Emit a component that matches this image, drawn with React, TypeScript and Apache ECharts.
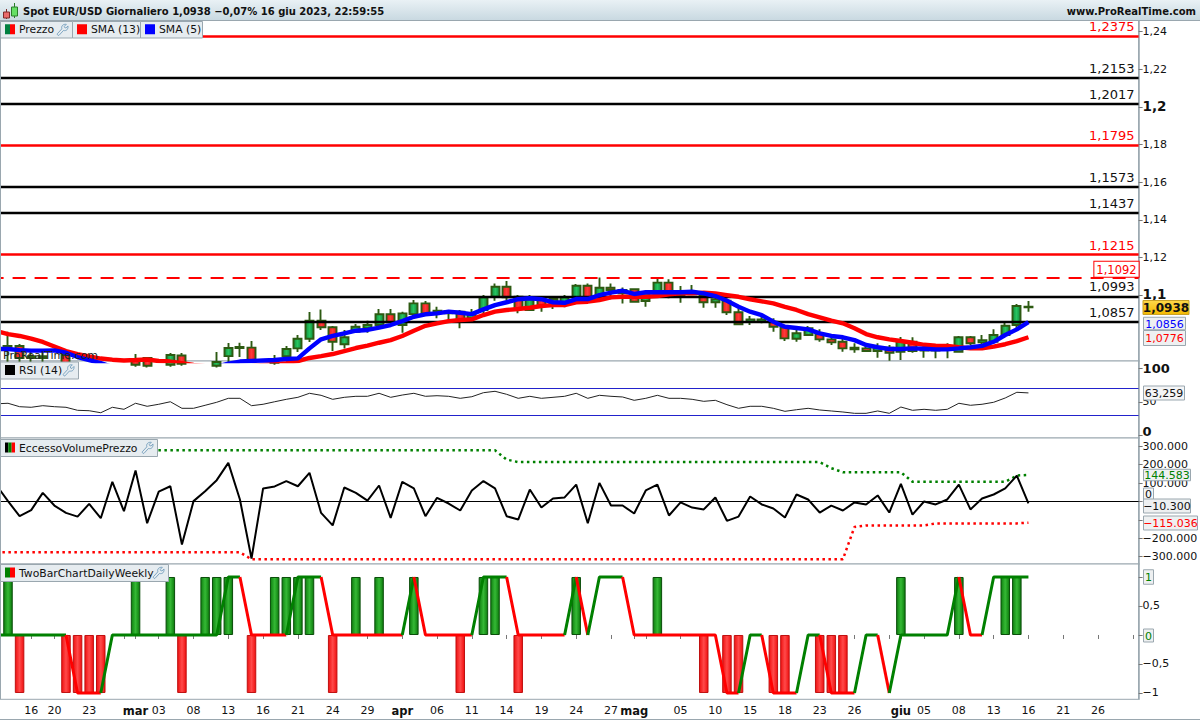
import React, { useEffect, useRef } from "react";
import * as echarts from "echarts";

// slot -1 is the bar that lies just off the left edge of the plot
const slots: string[] = Array.from({ length: 99 }, (_, k) => String(k - 1));

const tickTexts: Record<string, string> = {
  "2": "16", "4": "20", "7": "23", "10": "", "11": "mar", "13": "03", "16": "08", "19": "13", "22": "16", "25": "21",
  "28": "24", "31": "29", "34": "apr", "37": "06", "40": "11", "43": "14", "46": "19", "49": "24", "52": "27", "54": "mag",
  "55": "", "58": "05", "61": "10", "64": "15", "67": "18", "70": "23", "73": "26", "76": "", "77": "giu", "79": "05",
  "82": "08", "85": "13", "88": "16", "91": "21", "94": "26", "97": "",
};
const monthTexts = ["mar", "apr", "mag", "giu"];

// [open, close, low, high]
const candles: (number | string)[][] = [
  ["-", "-", "-", "-"],
  [1.0722, 1.073, 1.0645, 1.0805], [1.073, 1.0666, 1.0634, 1.074], [1.0666, 1.0676, 1.0645, 1.0708], [1.0666, 1.0676, 1.0639, 1.0698],
  [1.063, 1.064, 1.062, 1.0648], [1.0682, 1.0623, 1.061, 1.0687], [1.062, 1.061, 1.06, 1.0635], [1.06, 1.0615, 1.059, 1.063],
  [1.061, 1.06, 1.0585, 1.0625], [1.0595, 1.0605, 1.058, 1.062], [1.0605, 1.0618, 1.0595, 1.0635], [1.0661, 1.063, 1.062, 1.0687],
  [1.0666, 1.0625, 1.0615, 1.0671], [1.062, 1.0632, 1.061, 1.0645], [1.063, 1.0682, 1.062, 1.0692], [1.0679, 1.0635, 1.0625, 1.0692],
  [1.0625, 1.0615, 1.0605, 1.064], [1.062, 1.0635, 1.061, 1.0645], [1.0625, 1.0645, 1.0615, 1.0698], [1.0676, 1.0719, 1.0645, 1.0745],
  [1.0719, 1.0724, 1.0671, 1.0747], [1.0721, 1.0645, 1.064, 1.0756], [1.0625, 1.064, 1.0615, 1.0645], [1.064, 1.0648, 1.063, 1.0682],
  [1.0676, 1.0714, 1.0655, 1.073], [1.0717, 1.0768, 1.0698, 1.0788], [1.0768, 1.0864, 1.0751, 1.091], [1.0864, 1.0829, 1.0815, 1.0924],
  [1.0829, 1.0752, 1.0703, 1.0836], [1.0739, 1.0776, 1.0717, 1.0815], [1.0805, 1.0832, 1.0799, 1.0846], [1.0824, 1.0841, 1.08, 1.0864],
  [1.0841, 1.0898, 1.083, 1.0926], [1.0898, 1.0855, 1.0852, 1.0926], [1.0841, 1.0903, 1.08, 1.0912], [1.0899, 1.0956, 1.0894, 1.0974],
  [1.0956, 1.0903, 1.0894, 1.0969], [1.0906, 1.0917, 1.0877, 1.0938], [1.0903, 1.0915, 1.0871, 1.0921], [1.0912, 1.0871, 1.0824, 1.0921],
  [1.0877, 1.0903, 1.0868, 1.0926], [1.0921, 1.0988, 1.0905, 1.1], [1.0991, 1.1044, 1.097, 1.1062], [1.1044, 1.0988, 1.097, 1.1075],
  [1.0991, 1.093, 1.0903, 1.1], [1.0921, 1.0978, 1.0921, 1.1], [1.0978, 1.0947, 1.0912, 1.0988], [1.0947, 1.0979, 1.0926, 1.0984],
  [1.0956, 1.0988, 1.0935, 1.1], [1.0988, 1.105, 1.0978, 1.1059], [1.105, 1.0978, 1.097, 1.1062], [1.0991, 1.1039, 1.0974, 1.1094],
  [1.1039, 1.1027, 1.0978, 1.1062], [1.1009, 1.1027, 1.0956, 1.1041], [1.1031, 1.0965, 1.0959, 1.1036], [1.0969, 1.1009, 1.0938, 1.1023],
  [1.1009, 1.1066, 1.1004, 1.1089], [1.1066, 1.1009, 1.0983, 1.1084], [1.1, 1.1013, 1.0959, 1.1048], [1.1004, 1.1018, 1.1, 1.1053],
  [1.1, 1.0962, 1.0933, 1.1009], [1.0962, 1.0978, 1.0933, 1.1], [1.097, 1.0909, 1.0894, 1.0983], [1.0909, 1.0845, 1.0841, 1.093],
  [1.0859, 1.0871, 1.0841, 1.0889], [1.0859, 1.0871, 1.085, 1.0894], [1.0859, 1.0832, 1.0805, 1.0877], [1.0827, 1.077, 1.0756, 1.0841],
  [1.0768, 1.0797, 1.0752, 1.0815], [1.0788, 1.0824, 1.0783, 1.0836], [1.0793, 1.0765, 1.0752, 1.0818], [1.0765, 1.0749, 1.0735, 1.0788],
  [1.0752, 1.0717, 1.0699, 1.0776], [1.0712, 1.0721, 1.0694, 1.0744], [1.0717, 1.0703, 1.0699, 1.0735], [1.0703, 1.0721, 1.0667, 1.0744],
  [1.0721, 1.0694, 1.0651, 1.0735], [1.0699, 1.0752, 1.0655, 1.0777], [1.0752, 1.0703, 1.0694, 1.0776], [1.0705, 1.0717, 1.0667, 1.0744],
  [1.0705, 1.0717, 1.0664, 1.0735], [1.0708, 1.0721, 1.0664, 1.0744], [1.0699, 1.0776, 1.0694, 1.0783], [1.0776, 1.0744, 1.0735, 1.0783],
  [1.0749, 1.0761, 1.0735, 1.0788], [1.0752, 1.0788, 1.0747, 1.0818], [1.0788, 1.0837, 1.0783, 1.0853], [1.0841, 1.0942, 1.0825, 1.0953],
  [1.0935, 1.0938, 1.0912, 1.0969],
];

const sma13: number[] = [
  1.0809, 1.0793, 1.0783, 1.0769, 1.0751, 1.0727, 1.0703, 1.0687, 1.0674, 1.0663, 1.0657, 1.0653, 1.0655, 1.0658, 1.065, 1.0647, 1.0639, 1.0629,
  1.0623, 1.0618, 1.0618, 1.0618, 1.0623, 1.0629, 1.0634, 1.0639, 1.065, 1.0666, 1.0676, 1.0687, 1.0703, 1.0719, 1.0732, 1.0747, 1.0761, 1.0783,
  1.0811, 1.0837, 1.085, 1.0862, 1.0868, 1.0871, 1.0894, 1.0912, 1.0921, 1.0926, 1.0933, 1.0942, 1.0947, 1.0947, 1.0962, 1.0965, 1.0974, 1.0988,
  1.0991, 1.0991, 1.0991, 1.0995, 1.1004, 1.1009, 1.1009, 1.1013, 1.1009, 1.1, 1.0991, 1.0978, 1.0967, 1.0956, 1.0938, 1.0921, 1.0899, 1.0882,
  1.0864, 1.085, 1.0824, 1.0793, 1.0776, 1.0765, 1.0756, 1.0747, 1.0736, 1.0731, 1.073, 1.0723, 1.0717, 1.0717, 1.0726, 1.0739, 1.0756, 1.0776,
];
const sma5: number[] = [
  1.0714, 1.0714, 1.0708, 1.0705, 1.0705, 1.0706, 1.0694, 1.0671, 1.0655, 1.0639, 1.0618, 1.0607, 1.0602, 1.06, 1.0598, 1.06, 1.0602, 1.0605,
  1.061, 1.062, 1.0636, 1.0647, 1.065, 1.0653, 1.0655, 1.0661, 1.0664, 1.0717, 1.0765, 1.0783, 1.0797, 1.0811, 1.0815, 1.0827, 1.0841, 1.0862,
  1.0885, 1.0898, 1.0903, 1.0912, 1.0906, 1.0899, 1.0924, 1.0947, 1.0962, 1.0978, 1.0983, 1.0978, 1.0962, 1.0959, 1.0979, 1.0979, 1.1, 1.1013,
  1.1023, 1.1006, 1.1015, 1.1015, 1.1015, 1.1015, 1.1018, 1.1009, 1.0995, 1.097, 1.0938, 1.0912, 1.0894, 1.0859, 1.0832, 1.0825, 1.0818, 1.0797,
  1.0783, 1.0776, 1.0761, 1.0735, 1.0723, 1.0714, 1.0714, 1.0717, 1.0715, 1.0712, 1.0712, 1.0717, 1.0723, 1.073, 1.0752, 1.0788, 1.0818, 1.0856,
];

const levelsBlack = [1.2153, 1.2017, 1.1573, 1.1437, 1.0993, 1.0857];
const levelsRed = [1.2375, 1.1795, 1.1215];
const levelDashed = 1.1092;

const rsi: number[] = [
  47, 47.8, 42.7, 41.8, 44.2, 42.7, 41.8, 37.3, 36.7, 33.7, 41.8, 38.8, 47.8, 43.3, 46.3, 50.1, 40.3, 40.3, 44.8, 49.3, 55.2, 55.2, 44.2, 46.3, 50.1,
  53.7, 56.7, 62.7, 59.7, 53.7, 56.7, 58.2, 58.2, 62.7, 56.7, 60.1, 62.7, 58.2, 59.1, 58.2, 55.2, 57.6, 63.6, 65.7, 61.2, 55.2, 58.2, 55.2, 56.7, 58.2,
  62.7, 55.2, 59.7, 58.2, 57.2, 52.2, 55.2, 59.7, 55.2, 55.2, 53.7, 50.7, 52.2, 45.7, 40.3, 43.3, 43.3, 40.3, 35.8, 38.2, 40.3, 37.8, 36.3, 34.8, 32.8,
  32.8, 36.3, 32.8, 42.2, 37.3, 38.8, 37.3, 38.8, 47.8, 44.8, 46.3, 49.3, 55.7, 64.2, 63.259,
];
const rsiBounds = [70, 30];

const excess: number[] = [
  89000, 2000, -80000, -47000, 47000, -22000, -62000, -82000, -13000, -91000, 107000, -53000, 169000, -118000, 54000, 83000, -234000, 2000, 56000, 116000,
  210000, 11000, -310000, 71000, 82000, 111000, 83000, 156000, -62000, -130000, 76000, 47000, 5000, 87000, -89000, 107000, 71000, -80000, 20000, -11000,
  -49000, 60000, 111000, 71000, -80000, -98000, 65000, -33000, 16000, 22000, 92000, -118000, 101000, -22000, -22000, -65000, 60000, 92000, -76000, -5000,
  -33000, -43000, 22000, -105000, -82000, 27000, -16000, -38000, -87000, 38000, 11000, -60000, -22000, -49000, -5000, -16000, 33000, -60000, 96000, -71000,
  0, -16000, 11000, 92000, -43000, 16000, 38000, 71000, 141000, -10300,
];
const excessUpper: number[] = [
  278000, 278000, 278000, 278000, 278000, 278000, 278000, 278000, 278000, 278000, 278000, 278000, 278000, 278000, 278000, 278000, 278000, 278000, 278000, 278000, 278000, 278000,
  278000, 278000, 278000, 278000, 278000, 278000, 278000, 278000, 278000, 278000, 278000, 278000, 278000, 278000, 278000, 278000, 278000, 278000, 278000, 278000, 278000, 278000,
  228000,
  214000, 214000, 214000, 214000, 214000, 214000, 214000, 214000, 214000, 214000, 214000, 214000, 214000, 214000, 214000, 214000, 214000, 214000, 214000, 214000, 214000, 214000, 214000, 214000, 214000, 214000, 214000,
  181000, 159000, 159000, 159000, 159000, 159000, 159000,
  107000, 107000, 107000, 107000, 107000, 107000, 107000, 107000, 107000,
  141000, 144583,
];
const excessLower: number[] = [
  -276000, -276000, -276000, -276000, -276000, -276000, -276000, -276000, -276000, -276000, -276000, -276000, -276000, -276000, -276000, -276000, -276000, -276000, -276000, -276000, -276000, -276000,
  -314000, -314000, -314000, -314000, -314000, -314000, -314000, -314000, -314000, -314000, -314000, -314000, -314000, -314000, -314000, -314000, -314000, -314000, -314000, -314000, -314000, -314000, -314000, -314000, -314000, -314000,
  -314000, -314000, -314000, -314000, -314000, -314000, -314000, -314000, -314000, -314000, -314000, -314000, -314000, -314000, -314000, -314000, -314000, -314000, -314000, -314000, -314000, -314000, -314000, -314000, -314000, -314000,
  -138000, -130000, -130000, -130000, -130000, -130000, -130000,
  -119000, -119000, -119000, -119000, -119000, -119000, -119000, -119000,
  -115036,
];

const signal: number[] = [
  0, 0, 0, 0, 0, 0, 0, -1, -1, -1, 0, 0, 0, 0, 0, 0, 0, 0, 0, 0, 1, 1, 0, 0, 0, 0, 1, 1, 1, 0, 0, 0, 0, 0, 0, 0, 1, 0, 0, 0, 0, 0, 1, 1, 1,
  0, 0, 0, 0, 0, 1, 0, 1, 1, 1, 0, 0, 0, 0, 0, 0, 0, 0, -1, -1, 0, 0, -1, -1, -1, 0, 0, -1, -1, -1, 0, 0, -1, 0, 0, 0, 0, 0, 1, 0, 0, 1, 1, 1, 1,
];
const weeklyUpBars = [0, 11, 14, 17, 18, 19, 23, 24, 25, 26, 30, 32, 35, 41, 42, 49, 56, 77, 82, 86, 87];
const weeklyDownBars = [1, 5, 6, 7, 8, 15, 21, 28, 39, 44, 60, 62, 63, 66, 67, 70, 71, 72];

const priceTicks = [1.1, 1.12, 1.14, 1.16, 1.18, 1.2, 1.22, 1.24];
const rsiTicks = [0, 50, 100];
const excessTicks = [-300000, -200000, -100000, 0, 100000, 200000, 300000];
const excessLabelTicks = [-300000, -200000, 100000, 200000, 300000];
const signalTicks = [-1, -0.5, 0, 0.5, 1];
const signalLabelTicks = [-1, -0.5, 0.5];

const headerText = "Spot EUR/USD Giornaliero 1,0938 \u22120,07% 16 giu 2023, 22:59:55";
const siteText = "www.ProRealTime.com";
const watermarkText = "ProRealTime.com";

const FONT = "'DejaVu Sans', sans-serif";
const GREY = "#9aa7af";
const DARK = "#2d5a12";
const comma = (v: number) => String(v).replace(".", ",").replace("-", "\u2212");
const thousands = (v: number) =>
  (v < 0 ? "\u2212" : "") + String(Math.abs(v)).replace(/\B(?=(\d{3})+(?!\d))/g, ".");

const hGrad = (stops: string[]) =>
  new echarts.graphic.LinearGradient(0, 0, 1, 0, stops.map((color, i) => ({ offset: i / (stops.length - 1), color })));

const GRID_LEFT = -9.4;
const GRID_W = 1148;

function yAxis(gridIndex: number, min: number, max: number, ticks: number[], labelTicks: number[], formatter: any, rich: any = {}) {
  return {
    type: "value",
    gridIndex,
    position: "right",
    min,
    max,
    scale: true,
    splitLine: { show: false },
    axisLine: { show: true, onZero: false, lineStyle: { color: GREY, width: 1.5 } },
    axisTick: { show: true, length: 4, customValues: ticks, lineStyle: { color: "#777", width: 1 } },
    axisLabel: {
      show: true,
      customValues: labelTicks,
      margin: 4,
      color: "#111",
      fontFamily: FONT,
      fontSize: 11,
      formatter,
      rich,
    },
  };
}

function xAxis(gridIndex: number, visible: boolean) {
  return {
    type: "category",
    gridIndex,
    data: slots,
    boundaryGap: true,
    axisLine: { show: false },
    axisTick: {
      show: visible,
      alignWithLabel: true,
      length: 4,
      interval: (_: number, v: string) => v in tickTexts,
      lineStyle: { color: "#777" },
    },
    axisLabel: {
      show: visible,
      interval: (_: number, v: string) => v in tickTexts,
      margin: 6,
      color: "#111",
      fontFamily: FONT,
      fontSize: 11,
      hideOverlap: false,
      formatter: (v: string) => {
        const t = tickTexts[v] ?? "";
        return monthTexts.includes(t) ? `{b|${t}}` : t;
      },
      rich: { b: { fontWeight: "bold", fontSize: 11.5, fontFamily: FONT, color: "#111" } },
    },
    splitLine: { show: false },
  };
}

function signalSeries() {
  const out: any[] = [];
  let colour = "#008000";
  let run: number[] = [];
  const flush = () => {
    if (run.length < 2) return;
    const data: (number | null)[] = signal.map(() => null);
    run.forEach((k) => (data[k] = signal[k]));
    out.push({
      type: "line",
      xAxisIndex: 3,
      yAxisIndex: 3,
      data,
      z: 5,
      symbol: "none",
      connectNulls: false,
      lineStyle: { color: colour, width: 3 },
    });
  };
  for (let k = 1; k < signal.length; k++) {
    let c = colour;
    if (signal[k] > signal[k - 1]) c = "#008000";
    if (signal[k] < signal[k - 1]) c = "#ff0000";
    if (c !== colour) {
      flush();
      colour = c;
      run = [k - 1];
    }
    if (run.length === 0) run = [k - 1];
    run.push(k);
  }
  flush();
  return out;
}

function chip(x: number, y: number, w: number, h: number, text: string, swatch: string[], wrench: boolean) {
  const size = 10;
  const sx = x + 5;
  const sy = y + (h - size) / 2;
  const items: any[] = [
    { type: "rect", z: 40, shape: { x: x + 0.5, y: y + 0.5, width: w, height: h }, style: { fill: "#e6ecf0", stroke: GREY, lineWidth: 1 } },
  ];
  swatch.forEach((c, i) => {
    items.push({
      type: "rect",
      z: 41,
      shape: { x: sx + (i * size) / swatch.length, y: sy, width: size / swatch.length, height: size },
      style: { fill: c },
    });
  });
  items.push({
    type: "text",
    z: 41,
    style: { text, x: sx + 14, y: y + h / 2 + 0.5, fill: "#111", font: `10.8px ${FONT}`, verticalAlign: "middle" },
  });
  if (wrench)
    items.push({
      type: "wrench",
      z: 41,
      x: x + w - 15.5,
      y: y + 2.5,
      scaleX: 0.82,
      scaleY: 0.82,
      style: { fill: "none", stroke: "#6a97b8", lineWidth: 1 },
    });
  return items;
}

function tag(x: number, cy: number, w: number, h: number, text: string, color: string, fill = "#eef0f1") {
  return [
    { type: "rect", z: 45, shape: { x: x + 0.5, y: cy - h / 2, width: w, height: h }, style: { fill, stroke: GREY, lineWidth: 1 } },
    {
      type: "text",
      z: 46,
      style: { text, x: x + w / 2 + 0.5, y: cy + 0.5, fill: color, font: `11px ${FONT}`, align: "center", verticalAlign: "middle" },
    },
  ];
}

function overlay() {
  const header: any[] = [
    {
      type: "rect",
      z: 40,
      shape: { x: 0, y: 0, width: 1200, height: 20 },
      style: {
        fill: new echarts.graphic.LinearGradient(0, 0, 0, 1, [
          { offset: 0, color: "#e9f1f5" },
          { offset: 1, color: "#c9d9e1" },
        ]),
      },
    },
    { type: "line", z: 41, shape: { x1: 0, y1: 20.5, x2: 1200, y2: 20.5 }, style: { stroke: GREY, lineWidth: 1 } },
    { type: "rect", z: 42, shape: { x: 3.5, y: 12, width: 6, height: 6 }, style: { fill: "#e96a6a", stroke: "#7d2a2a", lineWidth: 1 } },
    { type: "line", z: 41, shape: { x1: 6.5, y1: 9, x2: 6.5, y2: 19 }, style: { stroke: "#7d2a2a", lineWidth: 1 } },
    { type: "rect", z: 42, shape: { x: 11.5, y: 7, width: 6, height: 9 }, style: { fill: "#66e066", stroke: "#2a7d2a", lineWidth: 1 } },
    { type: "line", z: 41, shape: { x1: 14.5, y1: 3, x2: 14.5, y2: 18 }, style: { stroke: "#2a7d2a", lineWidth: 1 } },
    {
      type: "text",
      z: 42,
      style: { text: headerText, x: 23, y: 11, fill: "#111", font: `bold 10px ${FONT}`, verticalAlign: "middle" },
    },
    {
      type: "text",
      z: 42,
      style: { text: siteText, x: 1196, y: 11, fill: "#111", font: `bold 10px ${FONT}`, align: "right", verticalAlign: "middle" },
    },
  ];
  const frame: any[] = [
    { type: "line", z: 39, shape: { x1: 0.5, y1: 20, x2: 0.5, y2: 699 }, style: { stroke: GREY, lineWidth: 1 } },
    { type: "line", z: 39, shape: { x1: 0, y1: 719.5, x2: 1200, y2: 719.5 }, style: { stroke: GREY, lineWidth: 1 } },
    {
      type: "text",
      z: 30,
      style: { text: watermarkText, x: 3, y: 355, fill: "#222", font: `11px ${FONT}`, verticalAlign: "middle" },
    },
  ];
  return [
    ...header,
    ...frame,
    ...chip(0, 21, 72, 16.5, "Prezzo", ["#008040", "#ff0000"], true),
    ...chip(72, 21, 68, 16.5, "SMA (13)", ["#ff0000"], false),
    ...chip(140, 21, 62, 16.5, "SMA (5)", ["#0000ff"], false),
    ...chip(0, 361.5, 78, 17, "RSI (14)", ["#000000"], true),
    ...chip(0, 439, 157, 17, "EccessoVolumePrezzo", ["#000000", "#008000", "#ff0000"], true),
    ...chip(0, 564, 168, 17, "TwoBarChartDailyWeekly", ["#008000", "#ff0000"], true),
    {
      type: "rect",
      z: 45,
      shape: { x: 1143, y: 300.5, width: 46, height: 14 },
      style: {
        fill: new echarts.graphic.LinearGradient(0, 0, 0, 1, [
          { offset: 0, color: "#ffd84a" },
          { offset: 1, color: "#f2b800" },
        ]),
        stroke: "#c9a227",
        lineWidth: 1,
      },
    },
    {
      type: "text",
      z: 46,
      style: { text: "1,0938", x: 1166, y: 308, fill: "#111", font: `bold 12px ${FONT}`, align: "center", verticalAlign: "middle" },
    },
    ...tag(1143, 323.5, 42, 12.5, "1,0856", "#0000ff"),
    ...tag(1143, 338, 42, 15, "1,0776", "#ff0000"),
    ...tag(1143, 393, 41, 14, "63,259", "#111", "#f4f5f6"),
    ...tag(1143, 475, 47, 11.5, "144.583", "#008000"),
    ...tag(1143, 494, 10, 12, "0", "#111", "#f4f5f6"),
    ...tag(1143, 506, 47, 14, "\u221210.300", "#111"),
    ...tag(1143, 523, 54, 14, "\u2212115.036", "#ff0000"),
    ...tag(1143, 577, 10, 14.5, "1", "#008000"),
    ...tag(1143, 635.5, 10, 13, "0", "#008000"),
  ];
}

function buildOption() {
  const levelLabel = (color: string) => ({
    show: true,
    position: "insideEndTop",
    distance: [4, 3],
    color,
    fontFamily: FONT,
    fontSize: 13,
    formatter: (p: any) => Number(p.value).toFixed(4).replace(".", ","),
  });
  const levelData = [
    ...levelsBlack.map((v) => ({ yAxis: v, lineStyle: { color: "#000", width: 2.4, type: "solid" }, label: levelLabel("#111") })),
    ...levelsRed.map((v) => ({ yAxis: v, lineStyle: { color: "#ff0000", width: 2.6, type: "solid" }, label: levelLabel("#ff0000") })),
    {
      yAxis: levelDashed,
      lineStyle: { color: "#ff0000", width: 2, type: [13, 9] },
      label: {
        ...levelLabel("#ff0000"),
        fontSize: 11.5,
        borderColor: "#ff0000",
        borderWidth: 1,
        padding: [2, 2, 1, 2],
        distance: [0, 1],
        backgroundColor: "#fff",
      },
    },
  ];
  const bars = slots.map((s, k) => {
    const i = k - 1;
    if (weeklyUpBars.includes(i))
      return {
        value: 1,
        itemStyle: { color: hGrad(["#0f7f10", "#35b935", "#0c7a0c"]), borderColor: "#0a4d0a", borderWidth: 1 },
      };
    if (weeklyDownBars.includes(i))
      return {
        value: -1,
        itemStyle: { color: hGrad(["#ef1111", "#ff4a4a", "#f00f0f"]), borderColor: "#c01010", borderWidth: 1 },
      };
    return null;
  });
  const gridBase = {
    left: GRID_LEFT,
    width: GRID_W,
    show: true,
    backgroundColor: "#fff",
    borderColor: GREY,
    borderWidth: 1,
    outerBoundsMode: "none",
  };
  return {
    animation: false,
    backgroundColor: "#ffffff",
    textStyle: { fontFamily: FONT },
    grid: [
      { ...gridBase, top: 20, height: 341 },
      { ...gridBase, top: 361, height: 77 },
      { ...gridBase, top: 438, height: 126 },
      { ...gridBase, top: 564, height: 135.3 },
    ],
    xAxis: [xAxis(0, false), xAxis(1, false), xAxis(2, false), xAxis(3, true)],
    yAxis: [
      yAxis(0, 1.065, 1.2461, priceTicks, priceTicks, (v: number) => (v === 1.1 || v === 1.2 ? `{b|${comma(v)}}` : comma(v)), {
        b: { fontWeight: "bold", fontSize: 13.5, fontFamily: FONT, color: "#111", padding: [0, 0, 2, 0] },
      }),
      yAxis(
        1,
        -4.03,
        110.9,
        rsiTicks,
        rsiTicks,
        (v: number) => (v === 50 ? "50" : v === 0 ? `{z|${v}}` : `{b|${v}}`),
        {
          b: { fontWeight: "bold", fontSize: 13, fontFamily: FONT, color: "#111" },
          z: { fontWeight: "bold", fontSize: 13, fontFamily: FONT, color: "#111", padding: [0, 0, 8, 0] },
        }
      ),
      yAxis(2, -339700, 345100, excessTicks, excessLabelTicks, (v: number) => thousands(v)),
      yAxis(3, -1.109, 1.224, signalTicks, signalLabelTicks, (v: number) => comma(v)),
    ],
    graphic: { elements: overlay() },
    series: [
      {
        type: "candlestick",
        xAxisIndex: 0,
        yAxisIndex: 0,
        data: candles,
        z: 2,
        barWidth: 8.5,
        clip: true,
        itemStyle: {
          color: hGrad(["#10923f", "#27c45f", "#0f8a3c"]),
          color0: hGrad(["#f01818", "#ff3a3a", "#e81414"]),
          borderColor: DARK,
          borderColor0: DARK,
          borderWidth: 1.9,
        },
      },
      {
        type: "line",
        xAxisIndex: 0,
        yAxisIndex: 0,
        data: [],
        symbol: "none",
        z: 3,
        markLine: { silent: true, symbol: "none", z: 3, precision: 4, animation: false, data: levelData },
      },
      {
        type: "line",
        xAxisIndex: 0,
        yAxisIndex: 0,
        data: sma13,
        z: 4,
        symbol: "none",
        lineStyle: { color: "#ff0000", width: 4.4 },
      },
      {
        type: "line",
        xAxisIndex: 0,
        yAxisIndex: 0,
        data: sma5,
        z: 5,
        symbol: "none",
        lineStyle: { color: "#0000ff", width: 4.4 },
      },
      {
        type: "line",
        xAxisIndex: 1,
        yAxisIndex: 1,
        data: rsi,
        z: 4,
        symbol: "none",
        lineStyle: { color: "#222", width: 1 },
        markLine: {
          silent: true,
          symbol: "none",
          label: { show: false },
          lineStyle: { color: "#2222cc", width: 1, type: "solid" },
          data: rsiBounds.map((v) => ({ yAxis: v })),
        },
      },
      {
        type: "line",
        xAxisIndex: 2,
        yAxisIndex: 2,
        data: excessUpper,
        z: 3,
        symbol: "none",
        lineStyle: { color: "#008000", width: 2.5, type: [2.5, 3.5] },
      },
      {
        type: "line",
        xAxisIndex: 2,
        yAxisIndex: 2,
        data: excessLower,
        z: 3,
        symbol: "none",
        lineStyle: { color: "#ff0000", width: 2.5, type: [2.5, 3.5] },
      },
      {
        type: "line",
        xAxisIndex: 2,
        yAxisIndex: 2,
        data: excess,
        z: 4,
        symbol: "none",
        lineStyle: { color: "#000", width: 2 },
        markLine: {
          silent: true,
          symbol: "none",
          label: { show: false },
          lineStyle: { color: "#000", width: 1.2, type: "solid" },
          data: [{ yAxis: 0 }],
        },
      },
      { type: "bar", xAxisIndex: 3, yAxisIndex: 3, data: bars, barWidth: 9.5, z: 2 },
      ...signalSeries(),
    ],
  };
}

echarts.graphic.registerShape(
  "wrench",
  echarts.graphic.extendPath(
    "M1 12.5 L6.5 6.5 C5.5 3 8 0.5 12 1 L9.5 3.5 L10 5 L11.5 5.5 L14 3 C14.5 7 12 9.5 8.5 8.5 L3 14.5 C2 15 0.5 13.5 1 12.5 Z",
    {}
  )
);

export default function App() {
  const ref = useRef<HTMLDivElement>(null);
  useEffect(() => {
    const chart = echarts.init(ref.current!, undefined, { renderer: "svg", width: 1200, height: 720 });
    chart.setOption(buildOption() as any);
    return () => chart.dispose();
  }, []);
  return <div ref={ref} style={{ position: "fixed", left: 0, top: 0, width: 1200, height: 720 }} />;
}
